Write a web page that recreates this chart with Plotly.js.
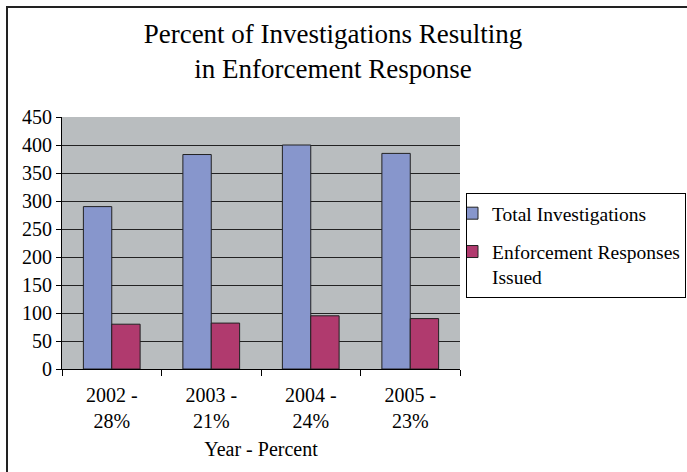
<!DOCTYPE html>
<html>
<head>
<meta charset="utf-8">
<script src="https://cdn.plot.ly/plotly-3.0.1.min.js"></script>
<style>
  html, body { margin: 0; padding: 0; background: #fff; }
  #wrap { position: relative; width: 687px; height: 472px; overflow: hidden; }
  #chart { position: absolute; left: 0; top: 0; }
  #frame { position: absolute; left: 6px; top: 6px; width: 720px; height: 465px;
           border-top: 2px solid #222; border-left: 2px solid #222;
           border-bottom: 1px solid #ddd; pointer-events: none; }
</style>
</head>
<body>
<div id="wrap">
  <div id="chart"></div>
  <div id="frame"></div>
</div>
<script>
const categories = ["2002 -<br>28%", "2003 -<br>21%", "2004 -<br>24%", "2005 -<br>23%"];
const totalInvestigations = [290, 383, 400, 385];
const enforcementResponses = [80, 82, 95, 90];
const seriesNames = ["Total Investigations", "Enforcement Responses<br>Issued"];
const yTicks = [0, 50, 100, 150, 200, 250, 300, 350, 400, 450];

const serif = "Liberation Serif";

const traces = [
  {
    type: "bar", x: categories, y: totalInvestigations, name: seriesNames[0],
    legendgroup: "a",
    marker: { color: "#8796CC", line: { color: "#222", width: 1 } }
  },
  {
    type: "bar", x: categories, y: enforcementResponses, name: seriesNames[1],
    legendgroup: "b",
    marker: { color: "#B03A6E", line: { color: "#222", width: 1 } }
  }
];

const layout = {
  width: 687, height: 472,
  margin: { l: 62, r: 227, t: 117, b: 103, autoexpand: false },
  paper_bgcolor: "rgba(0,0,0,0)",
  plot_bgcolor: "#B9BDBF",
  title: {
    text: "Percent of Investigations Resulting<br>in Enforcement Response",
    font: { family: serif, size: 27, color: "#000" },
    x: 333 / 687, xanchor: "center", xref: "container",
    y: 1 - 43 / 472, yanchor: "top", yref: "container"
  },
  barmode: "group",
  bargap: 0.43,
  bargroupgap: 0,
  xaxis: {
    type: "category",
    showline: true, linecolor: "#000", linewidth: 1,
    ticks: "outside", ticklen: 6, tickcolor: "#000", tickson: "boundaries",
    ticklabelstandoff: 8,
    tickfont: { family: serif, size: 20, color: "#000" },
    title: { text: "Year - Percent", font: { family: serif, size: 20, color: "#000" }, standoff: 10 },
    showgrid: false, zeroline: false
  },
  yaxis: {
    range: [0, 450], tickvals: yTicks,
    showline: true, linecolor: "#000", linewidth: 1,
    ticks: "outside", ticklen: 5, tickcolor: "#000",
    tickfont: { family: serif, size: 20, color: "#000" },
    showgrid: true, gridcolor: "#222", gridwidth: 1,
    zeroline: false
  },
  showlegend: true,
  legend: {
    x: (466 - 62) / 398, xanchor: "left", xref: "paper",
    y: (369 - 193) / 252, yanchor: "top", yref: "paper",
    bgcolor: "#fff", bordercolor: "#000", borderwidth: 1,
    font: { family: serif, size: 19.5, color: "#000" },
    traceorder: "grouped", tracegroupgap: 10,
    valign: "top", indentation: -15
  }
};

Plotly.newPlot("chart", traces, layout, { displayModeBar: false, staticPlot: true });
</script>
</body>
</html>
